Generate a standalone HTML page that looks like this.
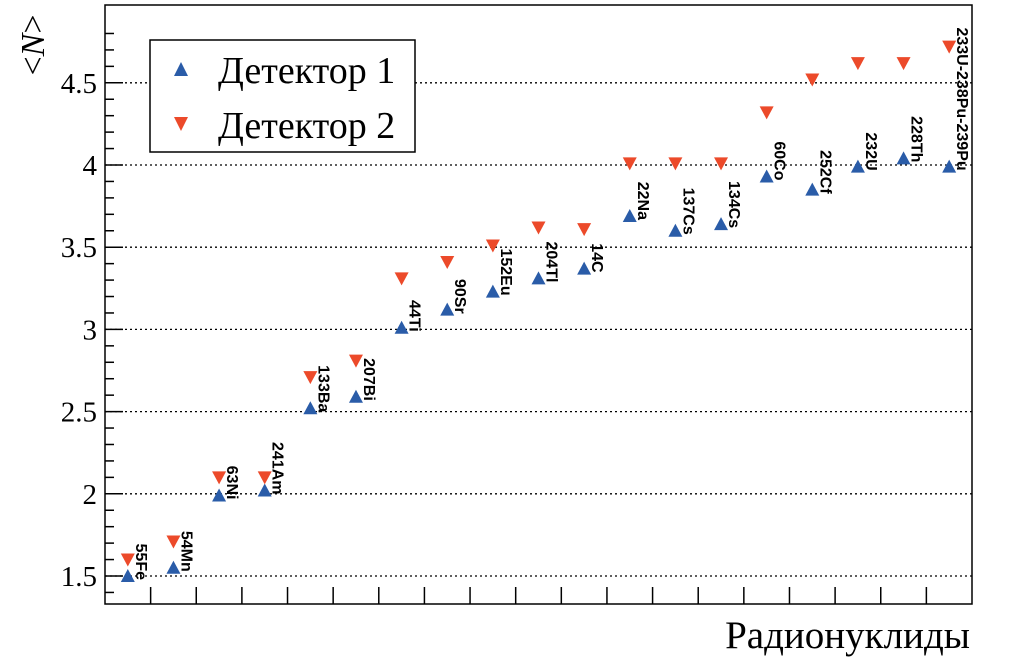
<!DOCTYPE html>
<html><head><meta charset="utf-8"><style>
html,body{margin:0;padding:0;background:#fff;}
svg{display:block;}
</style></head><body>
<svg id="chart" width="1010" height="661" xmlns="http://www.w3.org/2000/svg">
<g id="grid"></g>
<g id="axes"></g>
<g id="marks"></g>
<g id="labels"></g>
<rect x="150" y="40" width="265" height="112" fill="#fff" stroke="#000" stroke-width="1.5"/>
<polygon points="181,62 174,76 188,76" fill="#2a5ca8"/>
<text x="218" y="83" font-family="Liberation Serif, serif" font-size="38">Детектор 1</text>
<polygon points="174,117 188,117 181,131" fill="#ec4a2a"/>
<text x="218" y="138" font-family="Liberation Serif, serif" font-size="38">Детектор 2</text>
<text x="970" y="648" text-anchor="end" font-family="Liberation Serif, serif" font-size="39">Радионуклиды</text>
<text transform="translate(44,45) rotate(-90)" text-anchor="middle" font-family="Liberation Serif, serif" font-size="34">&lt;<tspan font-style="italic">N</tspan>&gt;</text>
</svg>
<script>
const categories=["55Fe","54Mn","63Ni","241Am","133Ba","207Bi","44Ti","90Sr","152Eu","204Tl","14C","22Na","137Cs","134Cs","60Co","252Cf","232U","228Th","233U-238Pu-239Pu"];
const det1=[1.50,1.55,1.99,2.02,2.52,2.59,3.01,3.12,3.23,3.31,3.37,3.69,3.60,3.64,3.93,3.85,3.99,4.04,3.99];
const det2=[1.60,1.71,2.10,2.10,2.71,2.81,3.31,3.41,3.51,3.62,3.61,4.01,4.01,4.01,4.32,4.52,4.62,4.62,4.72];
const yTicks=[1.5,2,2.5,3,3.5,4,4.5];
const yTickLabels=["1.5","2","2.5","3","3.5","4","4.5"];
const NS="http://www.w3.org/2000/svg";
const L=105,R=972,T=5,B=604;
const band=(R-L)/categories.length;
const x=i=>L+band*(i+0.5);
const y=v=>576-(v-1.5)*164.4;
function mk(tag,attrs,parent){const e=document.createElementNS(NS,tag);for(const k in attrs)e.setAttribute(k,attrs[k]);document.getElementById(parent).appendChild(e);return e;}
yTicks.forEach((v,i)=>{
 const g=mk('line',{x1:L,x2:R,y1:y(v),y2:y(v),stroke:'#000','stroke-width':1.3,'stroke-dasharray':'2,3'},'grid');
 
 
 const t=mk('text',{x:L-8,y:y(v)+10,'text-anchor':'end','font-family':'Liberation Serif, serif','font-size':29},'axes');
 t.textContent=yTickLabels[i];
 
 
});
for(let v=1.4;v<=4.85;v+=0.1){
 const major=Math.abs(v*2-Math.round(v*2))<0.01;
 const tk=mk('line',{x1:L,x2:L+(major?18:9),y1:y(v),y2:y(v),stroke:'#000','stroke-width':1.5},'axes');
 
 
}
for(let i=1;i<categories.length;i++){
 const tk=mk('line',{x1:L+band*i,x2:L+band*i,y1:B,y2:B-17,stroke:'#000','stroke-width':1.5},'axes');
 
 
}
const fr=mk('rect',{x:L,y:T,width:R-L,height:B-T,fill:'none',stroke:'#000','stroke-width':1.5},'axes');


categories.forEach((c,i)=>{
 const cx=x(i),y1=y(det1[i]),y2=y(det2[i]);
 const u=mk('polygon',{points:`${cx},${y1-7} ${cx-7},${y1+6} ${cx+7},${y1+6}`,fill:'#2a5ca8'},'marks');
 
 
 const d=mk('polygon',{points:`${cx-7},${y2-6} ${cx+7},${y2-6} ${cx},${y2+7}`,fill:'#ec4a2a'},'marks');
 
 
 const t=mk('text',{transform:`translate(${cx+8},${y1+4}) rotate(90)`,'text-anchor':'end','font-family':'Liberation Sans, sans-serif','font-size':16,'font-weight':'bold'},'labels');
 t.textContent=c;
 
 
});
</script>
</body></html>
